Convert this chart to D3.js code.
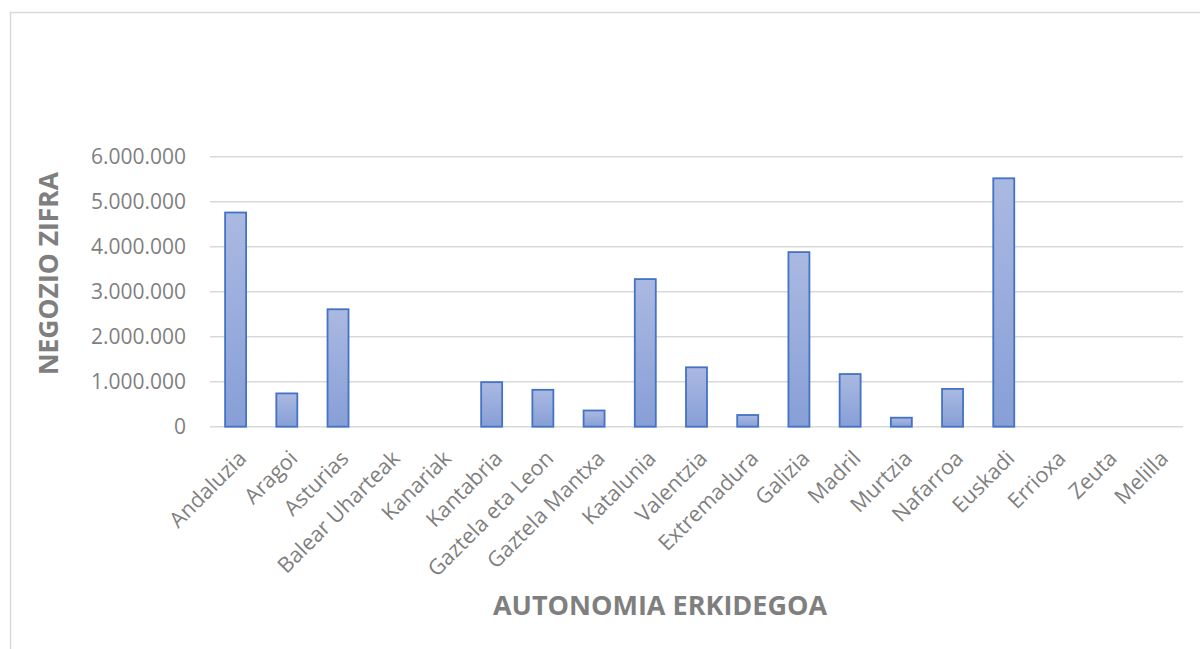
<!DOCTYPE html>
<html>
<head>
<meta charset="utf-8">
<script src="https://cdn.jsdelivr.net/npm/d3@7"></script>
<style>
  body { margin: 0; background: #fff; }
  svg { display: block; }
</style>
</head>
<body>
<script>
var regions = ["Andaluzia", "Aragoi", "Asturias", "Balear Uharteak", "Kanariak", "Kantabria",
               "Gaztela eta Leon", "Gaztela Mantxa", "Katalunia", "Valentzia", "Extremadura",
               "Galizia", "Madril", "Murtzia", "Nafarroa", "Euskadi", "Errioxa", "Zeuta", "Melilla"];
var amounts = [4760000, 740000, 2610000, 0, 0, 990000,
               820000, 360000, 3280000, 1320000, 260000,
               3880000, 1170000, 200000, 840000, 5520000, 0, 0, 0];
var yTicks = [0, 1000000, 2000000, 3000000, 4000000, 5000000, 6000000];

var w = 1200, h = 649;
var svg = d3.select("body")
            .append("svg")
            .attr("width", w)
            .attr("height", h);

// chart frame
svg.append("rect")
    .attr("x", 10.5).attr("y", 12.5)
    .attr("width", 1200).attr("height", 700)
    .attr("fill", "none")
    .attr("stroke", "#d9d9d9")
    .attr("stroke-width", 1.5);

var data = regions.map((r, i) => ({key: r, value: amounts[i]}));

var xScale = d3.scaleBand()
                .domain(regions)
                .range([210, 1183])
                .paddingInner(0.59)
                .paddingOuter(0.295);

var yScale = d3.scaleLinear()
                .domain([0, 6000000])
                .range([426.7, 156.7]);

var fmt = v => d3.format(",")(v).replace(/,/g, ".");

// gridlines
svg.append("g")
    .selectAll("line")
    .data(yTicks)
    .enter()
    .append("line")
    .attr("x1", 210).attr("x2", 1183)
    .attr("y1", d => yScale(d)).attr("y2", d => yScale(d))
    .attr("stroke", "#d9d9d9")
    .attr("stroke-width", 1.5);

var defs = svg.append("defs");
var grad = defs.append("linearGradient")
               .attr("id", "barGrad")
               .attr("x1", 0).attr("y1", 0).attr("x2", 0).attr("y2", 1);
grad.append("stop").attr("offset", "0%").attr("stop-color", "#aab9e1");
grad.append("stop").attr("offset", "100%").attr("stop-color", "#879fd7");

// bars
svg.append("g")
    .selectAll("rect")
    .data(data.filter(d => d.value > 0))
    .enter()
    .append("rect")
    .attr("x", d => xScale(d.key))
    .attr("y", d => yScale(d.value))
    .attr("width", xScale.bandwidth())
    .attr("height", d => yScale(0) - yScale(d.value))
    .attr("fill", "url(#barGrad)")
    .attr("stroke", "#4472c4")
    .attr("stroke-width", 1.8);

// y axis labels
var yAxis = d3.axisLeft(yScale)
              .tickValues(yTicks)
              .tickFormat(fmt)
              .tickSize(0)
              .tickPadding(0);

var yg = svg.append("g")
    .attr("transform", "translate(186,0)")
    .call(yAxis);
yg.select(".domain").remove();
yg.selectAll("text")
    .attr("fill", "#7f7f7f")
    .style("font-family", "'Open Sans', sans-serif")
    .style("font-size", "21px");

// x axis labels
var xAxis = d3.axisBottom(xScale)
              .tickSize(0)
              .tickPadding(0);

var xg = svg.append("g")
    .attr("transform", "translate(0,426.7)")
    .call(xAxis);
xg.select(".domain").remove();
xg.selectAll("text")
    .attr("fill", "#7f7f7f")
    .style("font-family", "'Open Sans', sans-serif")
    .style("font-size", "21.5px")
    .attr("text-anchor", "end")
    .attr("dy", null)
    .attr("y", null)
    .attr("transform", "translate(12,33) rotate(-45)");

// axis titles
svg.append("text")
    .attr("x", 660).attr("y", 615)
    .attr("text-anchor", "middle")
    .attr("fill", "#7f7f7f")
    .style("font-family", "'Open Sans', sans-serif")
    .style("font-weight", "bold")
    .style("font-size", "27px")
    .text("AUTONOMIA ERKIDEGOA");

svg.append("text")
    .attr("transform", "translate(58,273.5) rotate(-90)")
    .attr("text-anchor", "middle")
    .attr("fill", "#7f7f7f")
    .style("font-family", "'Open Sans', sans-serif")
    .style("font-weight", "bold")
    .style("font-size", "26.5px")
    .text("NEGOZIO ZIFRA");
</script>
</body>
</html>
